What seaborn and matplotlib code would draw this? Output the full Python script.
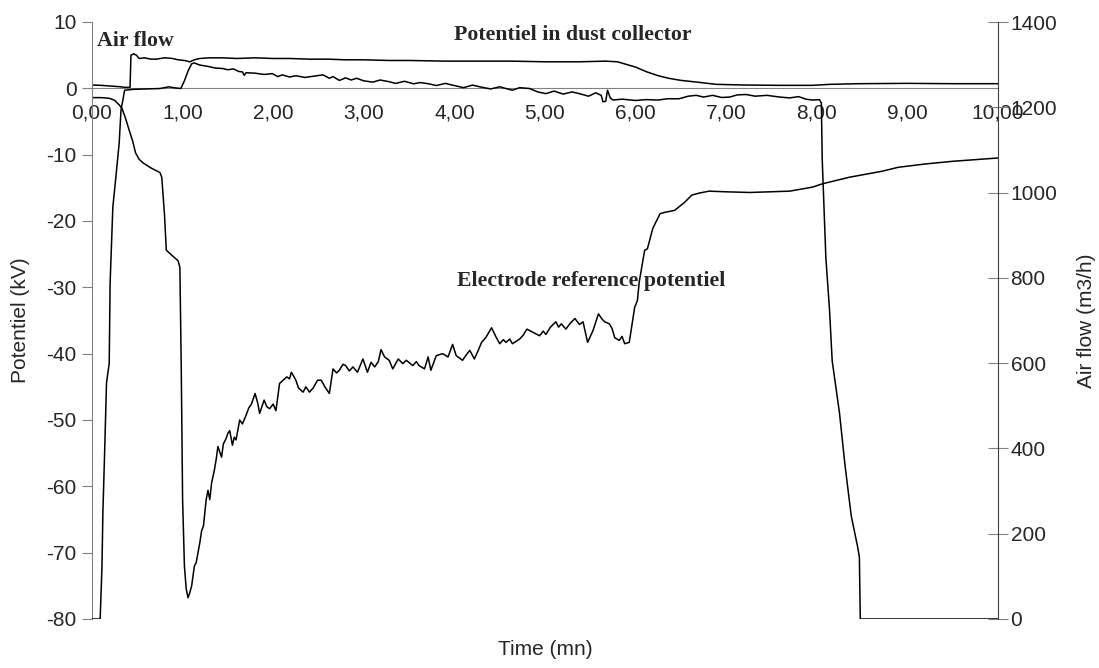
import numpy as np
import pandas as pd
import seaborn as sns
import matplotlib.pyplot as plt

# electrode reference potentiel (kV)
elec_t = [0.00, 0.10, 0.19, 0.25, 0.30, 0.33, 0.37, 0.41, 0.45, 0.48, 0.52, 0.56, 0.65, 0.75, 0.77,
          0.80, 0.82, 0.86, 0.95, 0.97, 0.985, 1.00, 1.02, 1.04, 1.06, 1.08, 1.10, 1.13, 1.15, 1.17,
          1.19, 1.21, 1.23, 1.24, 1.26, 1.28, 1.30, 1.32, 1.35, 1.37, 1.39, 1.41, 1.43, 1.45, 1.48,
          1.50, 1.52, 1.55, 1.57, 1.59, 1.61, 1.63, 1.66, 1.70, 1.73, 1.76, 1.80, 1.83, 1.85, 1.88,
          1.90, 1.93, 1.96, 2.00, 2.03, 2.05, 2.07, 2.11, 2.15, 2.18, 2.20, 2.23, 2.25, 2.28, 2.33,
          2.36, 2.40, 2.44, 2.49, 2.53, 2.57, 2.62, 2.66, 2.70, 2.73, 2.77, 2.80, 2.84, 2.88, 2.93,
          2.99, 3.04, 3.08, 3.12, 3.16, 3.19, 3.23, 3.28, 3.32, 3.38, 3.43, 3.47, 3.54, 3.58, 3.61,
          3.67, 3.71, 3.74, 3.80, 3.87, 3.93, 3.98, 4.02, 4.09, 4.13, 4.17, 4.22, 4.26, 4.30, 4.35,
          4.41, 4.46, 4.50, 4.54, 4.57, 4.61, 4.64, 4.72, 4.76, 4.80, 4.87, 4.94, 4.98, 5.01, 5.06,
          5.12, 5.15, 5.18, 5.23, 5.28, 5.33, 5.38, 5.42, 5.47, 5.53, 5.59, 5.63, 5.66, 5.71, 5.74,
          5.77, 5.82, 5.85, 5.88, 5.93, 5.99, 6.02, 6.04, 6.10, 6.13, 6.19, 6.27, 6.32, 6.43, 6.54,
          6.62, 6.70, 6.81, 7.00, 7.26, 7.50, 7.70, 7.95, 8.06, 8.36, 8.72, 8.90, 9.20, 9.50, 9.80,
          10.00]
elec_v = [-1.4, -1.4, -1.5, -1.8, -2.5, -3.0, -4.5, -6.3, -8.0, -9.7, -10.7, -11.2, -12.0, -12.7, -13.4,
          -19.0, -24.4, -24.9, -26.0, -27.0, -42.0, -62.0, -72.0, -75.5, -76.8, -76.0, -75.0, -72.0, -71.5, -70.0,
          -68.5, -66.7, -66.0, -64.7, -62.0, -60.6, -62.0, -59.5, -57.6, -56.0, -54.0, -54.8, -55.6, -53.6, -52.8,
          -52.0, -51.6, -53.8, -52.6, -53.0, -51.5, -50.0, -50.6, -49.3, -48.2, -47.6, -46.0, -47.5, -49.0, -47.8,
          -47.0, -48.0, -48.3, -47.6, -48.6, -46.5, -44.5, -44.0, -43.5, -43.8, -42.8, -43.5, -44.0, -45.2, -45.8,
          -45.0, -45.8, -45.2, -44.0, -44.0, -45.0, -46.0, -42.3, -42.9, -42.5, -41.6, -41.8, -42.6, -42.0, -42.8,
          -40.8, -42.8, -41.3, -42.0, -41.2, -39.4, -40.5, -41.0, -42.3, -40.8, -41.5, -41.0, -41.8, -41.2, -41.8,
          -42.3, -40.5, -42.5, -40.3, -40.0, -40.5, -38.6, -40.3, -41.0, -40.2, -39.5, -40.8, -39.6, -38.3, -37.5,
          -36.1, -37.5, -38.5, -37.9, -38.3, -37.8, -38.5, -37.8, -37.2, -36.3, -36.8, -37.3, -36.6, -37.1, -36.0,
          -35.2, -36.0, -35.5, -36.3, -35.4, -34.7, -35.6, -35.2, -38.3, -36.5, -34.0, -34.8, -35.2, -35.5, -36.2,
          -37.6, -38.0, -37.4, -38.5, -38.3, -33.0, -32.0, -29.2, -24.4, -24.2, -21.1, -18.9, -18.7, -18.4, -17.2,
          -16.1, -15.8, -15.5, -15.6, -15.7, -15.6, -15.5, -14.9, -14.4, -13.4, -12.5, -11.9, -11.4, -11.0, -10.7,
          -10.5]

# potentiel in dust collector (kV)
dust_t = [0.00, 0.10, 0.20, 0.30, 0.36, 0.42, 0.43, 0.46, 0.49, 0.52, 0.58, 0.65, 0.71, 0.80, 0.89,
          0.95, 1.02, 1.08, 1.13, 1.19, 1.30, 1.44, 1.60, 1.80, 2.00, 2.18, 2.40, 2.60, 2.80, 3.00,
          3.28, 3.50, 3.90, 4.30, 4.64, 5.00, 5.38, 5.67, 5.80, 5.90, 6.00, 6.12, 6.25, 6.37, 6.50,
          6.67, 6.89, 7.20, 7.59, 7.95, 8.14, 8.47, 9.00, 9.50, 10.00]
dust_v = [0.5, 0.45, 0.35, 0.25, 0.15, 0.15, 5.0, 5.2, 5.0, 4.5, 4.6, 4.4, 4.4, 4.6, 4.5,
          4.3, 4.2, 4.0, 4.3, 4.5, 4.6, 4.6, 4.5, 4.6, 4.5, 4.5, 4.4, 4.4, 4.3, 4.3,
          4.2, 4.2, 4.1, 4.1, 4.1, 4.0, 4.0, 4.1, 4.0, 3.6, 3.2, 2.5, 1.9, 1.5, 1.2,
          0.95, 0.6, 0.5, 0.45, 0.45, 0.6, 0.7, 0.75, 0.7, 0.7]

# air flow (m3/h)
air_t = [0.00, 0.09, 0.11, 0.12, 0.14, 0.16, 0.19, 0.20, 0.23, 0.26, 0.30, 0.32, 0.36, 0.45, 0.60,
         0.75, 0.85, 0.90, 0.98, 1.02, 1.06, 1.10, 1.13, 1.19, 1.25, 1.30, 1.36, 1.44, 1.50, 1.56,
         1.62, 1.66, 1.68, 1.70, 1.80, 1.90, 1.99, 2.05, 2.10, 2.18, 2.25, 2.35, 2.45, 2.55, 2.62,
         2.66, 2.73, 2.80, 2.86, 2.92, 3.00, 3.10, 3.18, 3.28, 3.35, 3.45, 3.55, 3.62, 3.72, 3.80,
         3.90, 4.00, 4.10, 4.20, 4.28, 4.40, 4.50, 4.64, 4.72, 4.83, 4.92, 5.01, 5.10, 5.20, 5.30,
         5.38, 5.48, 5.56, 5.62, 5.64, 5.67, 5.69, 5.72, 5.75, 5.85, 6.00, 6.12, 6.25, 6.35, 6.48,
         6.58, 6.67, 6.75, 6.85, 6.95, 7.04, 7.12, 7.22, 7.32, 7.45, 7.59, 7.70, 7.80, 7.88, 7.95,
         8.03, 8.05, 8.06, 8.10, 8.14, 8.17, 8.25, 8.31, 8.38, 8.45, 8.47, 8.48, 8.60, 9.00, 9.50,
         10.00]
air_v = [0, 0, 122, 248, 396, 553, 600, 788, 966, 1029, 1116, 1193, 1240, 1242, 1243,
         1244, 1248, 1246, 1244, 1262, 1285, 1302, 1304, 1299, 1297, 1295, 1292, 1291, 1288, 1290,
         1284, 1283, 1275, 1281, 1280, 1277, 1279, 1272, 1276, 1271, 1274, 1270, 1273, 1276, 1268,
         1272, 1263, 1269, 1264, 1268, 1262, 1259, 1264, 1260, 1256, 1261, 1255, 1258, 1255, 1251,
         1256, 1251, 1246, 1252, 1248, 1243, 1248, 1240, 1246, 1244, 1236, 1232, 1238, 1231, 1236,
         1232, 1226, 1234, 1228, 1213, 1214, 1240, 1222, 1217, 1219, 1216, 1218, 1217, 1220, 1220,
         1226, 1228, 1224, 1228, 1223, 1224, 1229, 1230, 1226, 1228, 1224, 1222, 1225, 1219, 1217,
         1218, 1210, 1077, 847, 726, 605, 484, 363, 242, 170, 145, 0, 0, 0, 0,
         0]

x_ticks = [0, 1, 2, 3, 4, 5, 6, 7, 8, 9, 10]
x_tick_labels = ['0,00', '1,00', '2,00', '3,00', '4,00', '5,00', '6,00', '7,00', '8,00', '9,00', '10,00']
kv_ticks = [-80, -70, -60, -50, -40, -30, -20, -10, 0, 10]
air_ticks = [0, 200, 400, 600, 800, 1000, 1200, 1400]

sns.set_style('white')
plt.rcParams['font.family'] = ['Liberation Sans', 'DejaVu Sans']

fig = plt.figure(figsize=(10.99, 6.68), dpi=100)
ax = fig.add_axes([92 / 1099, 1 - 619 / 668, (998 - 92) / 1099, (619 - 22) / 668])
ax2 = ax.twinx()

df_elec = pd.DataFrame({'t': elec_t, 'v': elec_v})
df_dust = pd.DataFrame({'t': dust_t, 'v': dust_v})
df_air = pd.DataFrame({'t': air_t, 'v': air_v})

sns.lineplot(data=df_elec, x='t', y='v', ax=ax, color='black', lw=1.1, sort=False, estimator=None)
sns.lineplot(data=df_dust, x='t', y='v', ax=ax, color='black', lw=1.1, sort=False, estimator=None)
sns.lineplot(data=df_air, x='t', y='v', ax=ax2, color='black', lw=1.1, sort=False, estimator=None)

ax.set_xlim(0, 10)
ax.set_ylim(-80, 10)
ax2.set_ylim(0, 1400)

ax.set_xticks(x_ticks)
ax.set_xticklabels(x_tick_labels)
ax.set_yticks(kv_ticks)
ax.set_yticklabels([str(v) for v in kv_ticks])
ax2.set_yticks(air_ticks)
ax2.set_yticklabels([str(v) for v in air_ticks])

ax.spines['bottom'].set_position(('data', 0))
for s in ['top', 'right']:
    ax.spines[s].set_visible(False)
for s in ['top', 'bottom', 'left']:
    ax2.spines[s].set_visible(False)
ax.spines['left'].set_color('#808080')
ax.spines['bottom'].set_color('#808080')
ax2.spines['right'].set_color('#404040')

ax.tick_params(axis='x', direction='out', length=7, color='#808080', labelsize=15, pad=4)
ax.tick_params(axis='y', direction='out', length=7, color='#808080', labelsize=15, pad=4)
ax2.tick_params(axis='y', direction='inout', length=14, color='#808080', labelsize=15, pad=2)

ax.set_xlabel('Time (mn)', fontsize=15)
ax.xaxis.set_label_coords(0.5, -0.035)
ax.set_ylabel('Potentiel (kV)', fontsize=15, labelpad=12)
ax2.set_ylabel('Air flow (m3/h)', fontsize=15, labelpad=14)

serif = {'family': ['Liberation Serif', 'DejaVu Serif'], 'weight': 'bold', 'size': 15.7}
ax.text(0.05, 7.2, 'Air flow', fontdict=serif, ha='left', va='center')
ax.text(5.31, 8.1, 'Potentiel in dust collector', fontdict=serif, ha='center', va='center')
ax.text(5.51, -29.1, 'Electrode reference potentiel', fontdict=serif, ha='center', va='center')

fig.savefig('out.png', dpi=100)
